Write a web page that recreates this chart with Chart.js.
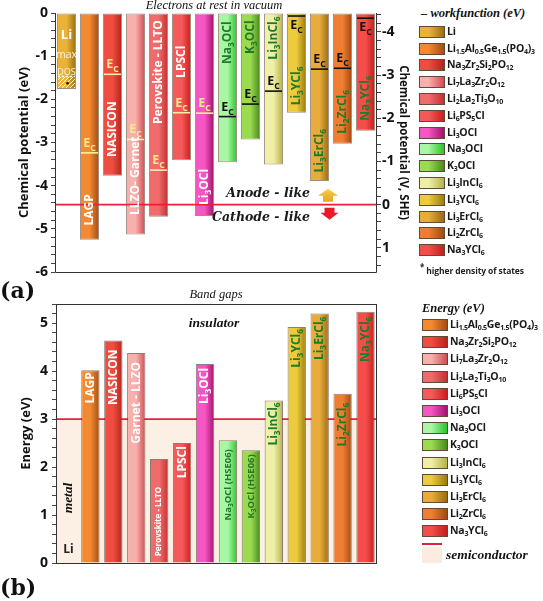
<!DOCTYPE html>
<html><head><meta charset="utf-8">
<script src="https://cdn.jsdelivr.net/npm/chart.js@4"></script>
<style>
body{margin:0;background:#fff;}
#wrap{position:relative;width:543px;height:601px;overflow:hidden;font-family:'Open Sans',sans-serif;}
canvas{position:absolute;left:0;}
.item{position:absolute;height:14px;white-space:nowrap;font:bold 10.5px 'Open Sans',sans-serif;letter-spacing:-0.25px;color:#1a1a1a;}
.sw{position:absolute;left:0;top:0px;width:24px;height:10px;border:1px solid #5e4a38;}
.txt{position:absolute;left:28px;top:-2px;line-height:14px;}
.txt sub{font-size:7px;vertical-align:-2px;line-height:0;letter-spacing:-0.3px;}
.ttl{position:absolute;font:italic bold 12.5px 'Liberation Serif',serif;color:#111;white-space:nowrap;}
.pl{position:absolute;font:bold 22px 'DejaVu Serif',serif;color:#111;}
</style></head>
<body><div id="wrap">
<canvas id="ca" width="420" height="285" style="top:0"></canvas>
<canvas id="cb" width="420" height="311" style="top:290px"></canvas>
<div class="pl" style="left:0;top:277px">(a)</div>
<div class="pl" style="left:0;top:574px">(b)</div>
<div class="ttl" style="left:421px;top:6px">– workfunction (eV)</div>
<div id="lgA"></div>
<div style="position:absolute;left:420px;top:261px;font:bold 8.5px 'Open Sans',sans-serif;color:#222;white-space:nowrap;letter-spacing:-0.1px"><sup style="font-size:8px">*</sup> higher density of states</div>
<div class="ttl" style="left:422px;top:301px">Energy (eV)</div>
<div id="lgB"></div>
<div style="position:absolute;left:422px;top:543px;width:20px;height:2px;background:#e8202e"></div>
<div style="position:absolute;left:422px;top:547px;width:20px;height:16px;background:#fcebe0"></div>
<div class="ttl" style="left:446px;top:547px;font-size:13.5px">semiconductor</div>
</div>
<script>
// ---------------- data ----------------
const categories = ['Li','LAGP','NASICON','LLZO','LLTO','LPSCl','Li3OCl','Na3OCl','K3OCl','Li3InCl6','Li3YCl6','Li3ErCl6','Li2ZrCl6','Na3YCl6'];
const wfTop    = [0, 0, 0, 0, 0, 0, 0, 0, 0, 0, 0, 0, 0, 0];
const wfBottom = [-1.76, -5.25, -3.77, -5.13, -4.72, -3.41, -4.70, -3.46, -2.93, -3.51, -2.31, -3.89, -3.03, -2.73];
const ecLevel  = [null, -3.24, -1.42, -2.93, -3.64, -2.31, -2.32, -2.40, -2.11, -1.81, -0.07, -1.30, -1.28, -0.12];
const liMaxDosTop = -1.47;
const redoxLevel = -4.44;            // 0 V vs SHE
const bandGap  = [null, 4.02, 4.64, 4.38, 2.17, 2.50, 4.15, 2.56, 2.35, 3.39, 4.92, 5.20, 3.53, 5.24];
const semiconductorLimit = 3;
const eVTicks  = [0, -1, -2, -3, -4, -5, -6];
const sheTicks = [-4, -3, -2, -1, 0, 1];
const gapTicks = [0, 1, 2, 3, 4, 5];
const labelsA = ['Li','LAGP','NASICON','LLZO- Garnet','Perovskite - LLTO','LPSCl','Li{3}OCl','Na{3}OCl','K{3}OCl','Li{3}InCl{6}','Li{3}YCl{6}','Li{3}ErCl{6}','Li{2}ZrCl{6}','Na{3}YCl{6}'];
const labelsB = ['','LAGP','NASICON','Garnet - LLZO','Perovskite - LLTO','LPSCl','Li{3}OCl','Na{3}OCl (HSE06)','K{3}OCl (HSE06)','Li{3}InCl{6}','Li{3}YCl{6}','Li{3}ErCl{6}','Li{2}ZrCl{6}','Na{3}YCl{6}'];
const legendNames = ['Li','Li{1.5}Al{0.5}Ge{1.5}(PO{4}){3}','Na{3}Zr{2}Si{2}PO{12}','Li{7}La{3}Zr{2}O{12}','Li{2}La{2}Ti{3}O{10}','Li{6}PS{5}Cl','Li{3}OCl','Na{3}OCl','K{3}OCl','Li{3}InCl{6}','Li{3}YCl{6}','Li{3}ErCl{6}','Li{2}ZrCl{6}','Na{3}YCl{6}'];

// ---------------- styles ----------------
const colors = [
 ['#ebb238','#9a6f12'], ['#f38a32','#a44c12'], ['#f04c40','#b2241c'], ['#f8b0ac','#d24c52'],
 ['#f06c6c','#c43032'], ['#f55a5a','#d01c1e'], ['#f655c4','#a3126a'], ['#a8f7a4','#2ac42a'],
 ['#9adb50','#4a8a1c'], ['#efefa8','#b5b346'], ['#eccb3c','#9c7c10'], ['#e9ac3c','#996c14'],
 ['#f07e32','#a24a12'], ['#f54e4a','#c21e1e']];
const labelColA = ['#fff','#fff','#fff','#fff','#fff','#fff','#fff','#1f7a2a','#1f7a2a','#1f7a2a','#1f7a2a','#1f7a2a','#1f7a2a','#1f7a2a'];
const labelCenterA = [null,-4.56,-2.69,-3.77,-1.37,-1.13,-4.03,-0.69,-0.56,-0.58,-1.69,-3.19,-2.29,-1.97];
const labelGapB = [0,2,9,9,28,3,4,9,4,2,2,3,9,5];
const labelSizeB = [12,12,12,12,8,12,12,9.5,9.5,12,12,12,12,12];
const SANS = "'Open Sans', sans-serif";

function parseRich(s){const out=[];const re=/\{([^}]*)\}|([^{]+)/g;let m;while((m=re.exec(s))){if(m[1]!==undefined)out.push({t:m[1],sub:true});else out.push({t:m[2],sub:false});}return out;}
function richW(ctx,segs,size){let w=0;segs.forEach(g=>{ctx.font=`bold ${g.sub?size*0.7:size}px ${SANS}`;w+=ctx.measureText(g.t).width;});return w;}
function drawRich(ctx,segs,x,y,size){let cx=x;segs.forEach(g=>{const s=g.sub?size*0.7:size;ctx.font=`bold ${s}px ${SANS}`;ctx.fillText(g.t,cx,y+(g.sub?size*0.32:0));cx+=ctx.measureText(g.t).width;});}

// legends (HTML)
function sub(s){return s.replace(/\{([^}]*)\}/g,'<sub>$1</sub>');}
function grad(i){return `linear-gradient(to right, ${colors[i][0]}, ${colors[i][0]} 35%, ${colors[i][1]})`;}
let h='';
legendNames.forEach((n,i)=>{const y=31.7+i*16.8-6;h+=`<div class="item" style="left:419px;top:${y}px"><div class="sw" style="background:${grad(i)}"></div><div class="txt">${sub(n)}</div></div>`;});
document.getElementById('lgA').innerHTML=h;
h='';
legendNames.slice(1).forEach((n,k)=>{const i=k+1;const y=325+k*17.2-6;h+=`<div class="item" style="left:422px;top:${y}px"><div class="sw" style="background:${grad(i)}"></div><div class="txt">${sub(n)}</div></div>`;});
document.getElementById('lgB').innerHTML=h;

function minor(min,max){const t=[];for(let k=Math.ceil(min*5-1e-9);k<=Math.floor(max*5+1e-9);k++)t.push({value:k/5});return t;}
const isMajor=(v,list)=>list.some(t=>Math.abs(t-v)<1e-6);
function bgFn(c){
  const chart=c.chart,i=c.dataIndex;
  if(!chart.chartArea||!chart.scales.x)return colors[i][0];
  const x=chart.scales.x.getPixelForValue(i);
  const w=chart.scales.x.width/categories.length*0.41;
  const g=chart.ctx.createLinearGradient(x-w,0,x+w,0);
  g.addColorStop(0,colors[i][0]);g.addColorStop(0.5,colors[i][0]);g.addColorStop(1,colors[i][1]);
  return g;
}
const tickFont={family:SANS,weight:'bold',size:14};
const titleFont={family:SANS,weight:'bold',size:13};

// --------------- chart (a) ----------------
const plugA={id:'plugA',
 afterDatasetsDraw(chart){
  const {ctx,chartArea:a,scales:{x,y}}=chart;const meta=chart.getDatasetMeta(0);
  ctx.save();
  const yr=y.getPixelForValue(redoxLevel);
  ctx.strokeStyle='#e8203a';ctx.lineWidth=1.6;ctx.beginPath();ctx.moveTo(a.left,yr);ctx.lineTo(a.right,yr);ctx.stroke();
  ecLevel.forEach((v,i)=>{if(v===null)return;const el=meta.data[i];const yc=y.getPixelForValue(v);
    const light=i<=6;ctx.strokeStyle=light?'#fbf0a0':'#111';ctx.lineWidth=1.6;
    ctx.beginPath();ctx.moveTo(el.x-el.width/2+1,yc);ctx.lineTo(el.x+el.width/2-1,yc);ctx.stroke();
    ctx.fillStyle=light?'#f8e890':'#111';ctx.textBaseline='alphabetic';
    const segs=parseRich('E{C}');const w=richW(ctx,segs,12.5);
    const by=(v>-0.3)?yc+13:yc-6;drawRich(ctx,segs,el.x-w/2,by,12.5);});
  labelsA.forEach((t,i)=>{if(labelCenterA[i]===null)return;const el=meta.data[i];const yc=y.getPixelForValue(labelCenterA[i]);
    ctx.save();ctx.translate(el.x,yc);ctx.rotate(-Math.PI/2);ctx.fillStyle=labelColA[i];ctx.textBaseline='middle';
    const segs=parseRich(t);const w=richW(ctx,segs,12);drawRich(ctx,segs,-w/2,0,12);ctx.restore();});
  const li=meta.data[0];const l=li.x-li.width/2+1,r=li.x+li.width/2-1;
  ctx.fillStyle='#fff';ctx.textAlign='center';ctx.textBaseline='middle';
  ctx.font=`bold 13px ${SANS}`;ctx.fillText('Li',li.x,y.getPixelForValue(-0.51));
  ctx.fillStyle='#fdf3dc';ctx.font=`10.5px ${SANS}`;ctx.fillText('max',li.x,y.getPixelForValue(-0.97));
  ctx.font=`9px ${SANS}`;ctx.fillText('DOS',li.x,y.getPixelForValue(-1.37));
  const ht=y.getPixelForValue(liMaxDosTop),hb=y.getPixelForValue(wfBottom[0])-1;
  ctx.save();ctx.beginPath();ctx.rect(l,ht,r-l,hb-ht);ctx.clip();
  ctx.strokeStyle='#fff';ctx.lineWidth=1;
  for(let k=-20;k<30;k+=4){ctx.beginPath();ctx.moveTo(l+k,hb);ctx.lineTo(l+k+14,hb-14);ctx.stroke();}
  ctx.restore();
  ctx.setLineDash([2,2]);ctx.strokeStyle='#fff';ctx.beginPath();ctx.moveTo(l,ht);ctx.lineTo(r,ht);ctx.stroke();ctx.setLineDash([]);
  ctx.fillStyle='#111';ctx.beginPath();ctx.arc(li.x+1,(ht+hb)/2+1,1.3,0,Math.PI*2);ctx.fill();
  ctx.fillStyle='#1a1a1a';ctx.textAlign='right';ctx.textBaseline='middle';
  ctx.font="italic bold 12.5px 'DejaVu Serif', serif";
  ctx.fillText('Anode - like',310,yr-11);ctx.fillText('Cathode - like',310,yr+13);
  const ax=x.getPixelForValue(11)+8.5;
  let g=ctx.createLinearGradient(0,yr-16,0,yr-3);g.addColorStop(0,'#f7cf48');g.addColorStop(1,'#e5a522');
  ctx.fillStyle=g;ctx.beginPath();ctx.moveTo(ax,yr-16);ctx.lineTo(ax+10,yr-9);ctx.lineTo(ax+5,yr-9);ctx.lineTo(ax+5,yr-3);ctx.lineTo(ax-5,yr-3);ctx.lineTo(ax-5,yr-9);ctx.lineTo(ax-10,yr-9);ctx.closePath();ctx.fill();
  const bx=ax+1.5;
  ctx.fillStyle='#ea1a2a';ctx.beginPath();ctx.moveTo(bx-5,yr+3);ctx.lineTo(bx+5,yr+3);ctx.lineTo(bx+5,yr+8);ctx.lineTo(bx+9,yr+8);ctx.lineTo(bx,yr+15);ctx.lineTo(bx-9,yr+8);ctx.lineTo(bx-5,yr+8);ctx.closePath();ctx.fill();
  ctx.fillStyle='#111';ctx.textAlign='center';ctx.font="italic 12.5px 'Liberation Serif', serif";
  ctx.fillText('Electrons at rest in vacuum',(a.left+a.right)/2-2,6);
  ctx.strokeStyle='#333';ctx.lineWidth=1;ctx.beginPath();
  ctx.moveTo(a.left+0.5,a.top);ctx.lineTo(a.left+0.5,a.bottom+0.5);ctx.lineTo(a.right-0.5,a.bottom+0.5);ctx.lineTo(a.right-0.5,a.top);ctx.stroke();
  ctx.restore();
 }};

new Chart(document.getElementById('ca'),{
 type:'bar',
 data:{labels:categories,datasets:[{data:wfBottom.map((b,i)=>[b,wfTop[i]]),backgroundColor:bgFn,borderColor:'rgba(80,50,30,0.55)',borderWidth:1,borderSkipped:false,barPercentage:0.83,categoryPercentage:1}]},
 options:{responsive:false,animation:false,devicePixelRatio:1,
  layout:{padding:{top:13,bottom:13,left:0,right:0}},
  plugins:{legend:{display:false},tooltip:{enabled:false}},
  scales:{
   x:{display:false,offset:true},
   y:{position:'left',min:-6,max:0,afterFit:s=>{s.width=55;},afterBuildTicks:s=>{s.ticks=minor(-6,0);},
      ticks:{autoSkip:false,font:tickFont,color:'#111',padding:3,callback:v=>isMajor(v,eVTicks)?String(Math.round(v)):''},
      grid:{drawOnChartArea:false,tickLength:4,color:'#444'},border:{display:false},
      title:{display:true,text:'Chemical potential (eV)',font:titleFont,color:'#111',padding:{top:16}}},
   y2:{position:'right',min:-4.44,max:1.56,reverse:true,afterFit:s=>{s.width=43;},afterBuildTicks:s=>{s.ticks=minor(-4.44,1.56);},
      ticks:{autoSkip:false,font:tickFont,color:'#111',padding:1,callback:v=>isMajor(v,sheTicks)?String(Math.round(v)):''},
      grid:{drawOnChartArea:false,tickLength:4,color:'#444'},border:{display:false},
      title:{display:true,text:'Chemical potential (V, SHE)',font:{family:SANS,weight:'bold',size:11.5},color:'#111',padding:{top:10}}}
  }},
 plugins:[plugA]});

// --------------- chart (b) ----------------
const plugB={id:'plugB',
 beforeDatasetsDraw(chart){
  const {ctx,chartArea:a,scales:{y}}=chart;const ys=y.getPixelForValue(semiconductorLimit);
  ctx.save();ctx.fillStyle='#fcefe4';ctx.fillRect(a.left,ys,a.right-a.left,a.bottom-ys);
  ctx.strokeStyle='#e8203a';ctx.lineWidth=1.6;ctx.beginPath();ctx.moveTo(a.left,ys);ctx.lineTo(a.right,ys);ctx.stroke();ctx.restore();
 },
 afterDatasetsDraw(chart){
  const {ctx,chartArea:a,scales:{x,y}}=chart;const meta=chart.getDatasetMeta(0);
  ctx.save();
  labelsB.forEach((t,i)=>{if(bandGap[i]===null)return;const el=meta.data[i];const yt=y.getPixelForValue(bandGap[i])+labelGapB[i];
    ctx.save();ctx.translate(el.x,yt);ctx.rotate(-Math.PI/2);ctx.fillStyle=labelColA[i];ctx.textBaseline='middle';
    const sz=labelSizeB[i];const segs=parseRich(t);const w=richW(ctx,segs,sz);drawRich(ctx,segs,-w,0,sz);ctx.restore();});
  ctx.fillStyle='#111';ctx.textAlign='center';ctx.textBaseline='middle';
  ctx.font="italic bold 13.5px 'Liberation Serif', serif";ctx.fillText('insulator',214,34);
  ctx.save();ctx.translate(x.getPixelForValue(0)+1,208);ctx.rotate(-Math.PI/2);ctx.fillText('metal',0,0);ctx.restore();
  ctx.font=`bold 12px ${SANS}`;ctx.fillStyle='#222';ctx.fillText('Li',x.getPixelForValue(0)+1,y.getPixelForValue(0.28));
  ctx.font="italic 12.5px 'Liberation Serif', serif";ctx.fillStyle='#111';ctx.fillText('Band gaps',216,5);
  ctx.strokeStyle='#333';ctx.lineWidth=1;ctx.strokeRect(a.left+0.5,a.top+0.5,a.right-a.left-1,a.bottom-a.top);
  ctx.restore();
 }};

new Chart(document.getElementById('cb'),{
 type:'bar',
 data:{labels:categories,datasets:[{data:bandGap,backgroundColor:bgFn,borderColor:'rgba(80,60,50,0.65)',borderWidth:1,borderSkipped:'start',barPercentage:0.8,categoryPercentage:1}]},
 options:{responsive:false,animation:false,devicePixelRatio:1,
  layout:{padding:{top:14,bottom:38,left:0,right:43}},
  plugins:{legend:{display:false},tooltip:{enabled:false}},
  scales:{
   x:{display:false,offset:true},
   y:{position:'left',min:0,max:5.4,afterFit:s=>{s.width=56;},afterBuildTicks:s=>{s.ticks=minor(0,5.4);},
      ticks:{autoSkip:false,font:tickFont,color:'#111',padding:4,callback:v=>isMajor(v,gapTicks)?String(Math.round(v)):''},
      grid:{drawOnChartArea:false,tickLength:4,color:'#444'},border:{display:false},
      title:{display:true,text:'Energy (eV)',font:titleFont,color:'#111',padding:{top:18}}}
  }},
 plugins:[plugB]});
</script>
</body></html>
